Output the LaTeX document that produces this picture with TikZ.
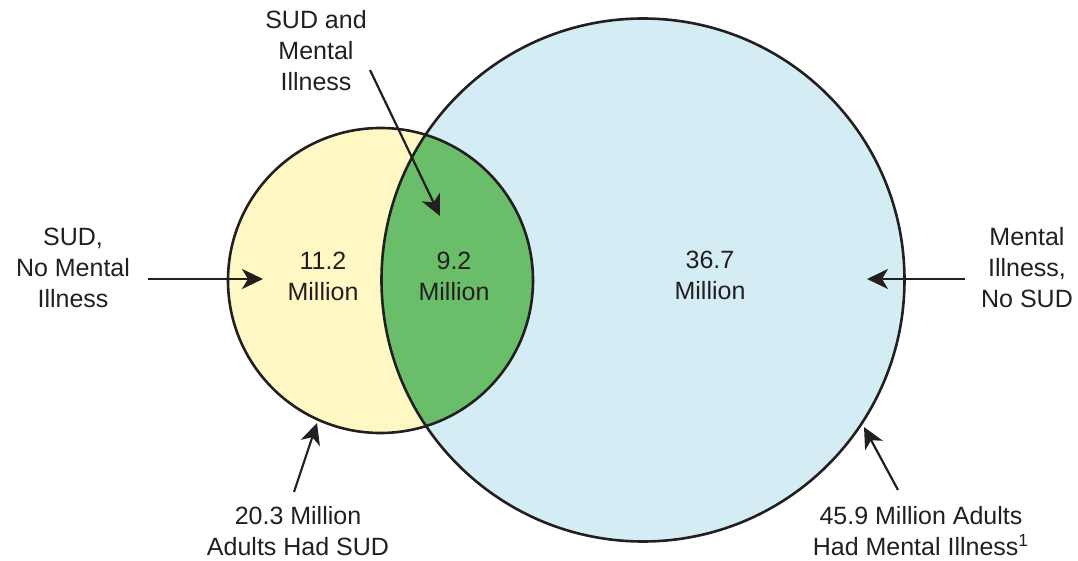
\documentclass[tikz,border=0pt]{standalone}
\usepackage{fontspec}
\setmainfont{Liberation Sans}
\usetikzlibrary{arrows.meta}
\definecolor{sudyellow}{RGB}{255,248,196}
\definecolor{bothgreen}{RGB}{106,190,105}
\definecolor{miblue}{RGB}{212,236,244}
\definecolor{ink}{RGB}{35,31,32}
\begin{document}
\begin{tikzpicture}[x=0.5pt,y=-0.5pt,
  lbl/.style={text=ink, align=center, font=\fontsize{12.5}{15.5}\selectfont, inner sep=0pt},
  arr/.style={draw=ink, line width=1.1pt, -{Stealth[length=10.5pt,width=10pt,inset=3pt]}},
  ring/.style={draw=ink, line width=1.3pt}]
\useasboundingbox (0,0) rectangle (1078,561);
% circles
\coordinate (csud) at (380.5,280.5);
\coordinate (cmi) at (643,280);
\fill[miblue] (cmi) circle[radius=261.5];
\fill[sudyellow] (csud) circle[radius=152.5];
\begin{scope}
  \clip (csud) circle[radius=152.5];
  \fill[bothgreen] (cmi) circle[radius=261.5];
\end{scope}
\draw[ring] (cmi) circle[radius=261.5];
\draw[ring] (csud) circle[radius=152.5];
% labels
\node[lbl] (sudmi) at (316,51) {SUD and\\Mental\\Illness};
\node[lbl] (sudonly) at (73,267.5) {SUD,\\No Mental\\Illness};
\node[lbl] (mionly) at (1027,267.5) {Mental\\Illness,\\No SUD};
\node[lbl] (v1) at (323,276) {11.2\\Million};
\node[lbl] (v2) at (454,276) {9.2\\Million};
\node[lbl] (v3) at (710,275) {36.7\\Million};
\node[lbl] (tsud) at (298,531) {20.3 Million\\Adults Had SUD};
\node[lbl] (tmi) at (921,531) {45.9 Million Adults\\Had Mental Illness\textsuperscript{1}};
% arrow ends
\coordinate (a1s) at (370,70);  \coordinate (a1e) at (440,216);
\coordinate (a2s) at (148,279); \coordinate (a2e) at (263,279);
\coordinate (a3s) at (965,279); \coordinate (a3e) at (867,279);
\coordinate (a4s) at (294,492); \coordinate (a4e) at (317,423);
\coordinate (a5s) at (898,490); \coordinate (a5e) at (864,427);
\draw[arr] (a1s) -- (a1e);
\draw[arr] (a2s) -- (a2e);
\draw[arr] (a3s) -- (a3e);
\draw[arr] (a4s) -- (a4e);
\draw[arr] (a5s) -- (a5e);
\end{tikzpicture}
\end{document}
